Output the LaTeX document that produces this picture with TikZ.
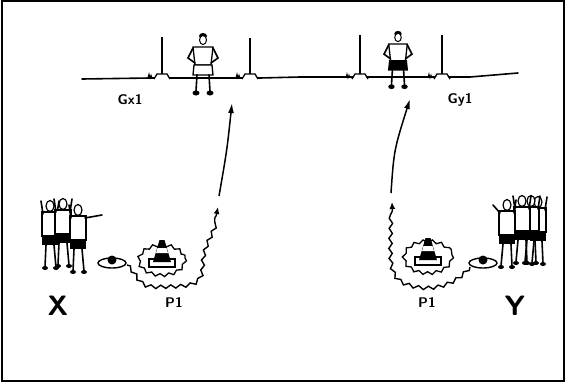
\documentclass[tikz,border=0pt]{standalone}
\usetikzlibrary{arrows.meta,decorations.pathmorphing}
\tikzstyle{arrow} = [line width=1.5pt,-{Latex[length=10pt,width=6pt]}]
\tikzset{
 frame/.style
  = {line width=1.2pt},
 ground/.style
  = {line width=1.6pt, line cap=round},
 pole/.style
  = {line width=1.8pt},
 limb/.style
  = {line width=1.6pt, line cap=round},
 wiggle/.style
  = {line width=1.3pt, decorate, decoration={snake, amplitude=1.5pt, segment length=9pt}},
 run/.style
  = {line width=1.4pt, -{Latex[length=7pt,width=6pt]}, decorate,
     decoration={snake, amplitude=1.7pt, segment length=10pt, post length=8pt}},
 tag/.style
  = {font=\sffamily\bfseries\fontsize{14}{14}\selectfont, inner sep=0pt},
 big/.style
  = {font=\sffamily\bfseries\fontsize{28}{28}\selectfont, inner sep=0pt},
 pics/keeper/.style = {code = {
   \fill (0,4) ellipse (4 and 3);
   \draw[fill=white, line width=1pt] (0,8) ellipse (3.5 and 4.5);
   \draw[fill=white, line width=1.3pt] (-10,15) -- (10,15) -- (8,33) -- (-8,33) -- cycle;
   \draw[limb] (-10,16) -- (-15,26) -- (-8,31) (10,16) -- (15,26) -- (8,31);
   \draw[fill=#1, line width=1.3pt] (-9,33) -- (9,33) -- (10,43) -- (-10,43) -- cycle;
   \draw[limb] (-6,43) -- (-7,59) (6,43) -- (7,59);
   \fill (-7,61) ellipse (3.5 and 2.5) (7,61) ellipse (3.5 and 2.5);
 }},
 pics/mate/.style = {code = {
   \draw[fill=white, line width=1.2pt] (0,6) ellipse (4 and 5.5);
   \draw[fill=white, line width=1.2pt] (-8,12) rectangle (8,36);
   \fill (-8,36) rectangle (8,45);
   \draw[limb] (-7,14) -- (-9,1);
   \draw[limb] (7,14) -- #1;
   \draw[limb] (-4,45) -- (-5,67) (4,45) -- (6,67);
   \fill (-5,68) ellipse (3 and 2) (6,68) ellipse (3 and 2);
 }},
 pics/cone/.style = {code = {
   \draw[line width=1.4pt, fill=white] (-13,19) rectangle (13,27);
   \fill (-2.5,0) -- (2.5,0) -- (9,22) -- (-9,22) -- cycle;
   \fill[white] (-4.5,8) -- (4.5,8) -- (6,13) -- (-6,13) -- cycle;
 }},
 pics/disc/.style = {code = {
   \draw[line width=1.4pt] (0,0) ellipse (14 and 5);
   \fill (0,-3) circle (4.5);
 }},
}
\begin{document}
\begin{tikzpicture}[x=1pt, y=-1pt]
\useasboundingbox (0,0) rectangle (566,383);

% Frame
\draw[frame] (2,1) rectangle (564,381);

% Goal line with poles
\draw[ground] (82,79) -- (150,78) -- (260,78) -- (300,77) -- (470,77) -- (518,73);
\foreach \px/\top in {162/37, 250/38, 360/35, 442/35} {
  \draw[pole] (\px,77) -- (\px,\top);
  \draw[line width=1.3pt, fill=white] ({\px-8},79) -- ({\px-5},74) -- ({\px+5},74) -- ({\px+8},79);
  \draw[line width=0.9pt] ({\px-14},78) -- ++(1,-4) -- ++(1,4) -- ++(1,-3) -- ++(1,3);
}

% Goalkeepers
\pic at (203,32) {keeper=white};
\pic[scale=0.93] at (398,30) {keeper=black};
\node[tag] (gx) at (130,100) {Gx1};
\node[tag] (gy) at (460,100) {Gy1};

% Group X
\pic at (50,200) {mate={(9,1)}};
\pic at (63,198) {mate={(9,1)}};
\pic at (78,204) {mate={(24,11)}};
\node[big] (x) at (58,306) {X};

% Group Y
\pic[xscale=-1] at (538,196) {mate={(9,1)}};
\pic[xscale=-1] at (531,195) {mate={(9,1)}};
\pic[xscale=-1] at (522,195) {mate={(9,1)}};
\pic[xscale=-1] at (507,199) {mate={(14,6)}};
\node[big] (y) at (515,306) {Y};

% Balls and cones
\pic at (112,263) {disc};
\pic at (483,263) {disc};
\draw[wiggle] (162,258) ellipse (23 and 15);
\draw[wiggle] (428,255) ellipse (24 and 16);
\pic at (162,240) {cone};
\pic at (428,238) {cone};
\node[tag] (p1) at (174,302) {P1};
\node[tag] (p2) at (427,302) {P1};

% Runs
\coordinate (L0) at (127,265);
\coordinate (L1) at (218,207);
\coordinate (R0) at (470,267);
\coordinate (R1) at (392,202);
\draw[run] (L0) .. controls (140,278) and (135,286) .. (160,285)
  .. controls (190,284) and (201,285) .. (201,262)
  .. controls (202,240) and (214,232) .. (L1);
\draw[run] (R0) .. controls (455,285) and (430,290) .. (410,283)
  .. controls (392,278) and (392,262) .. (392,245)
  .. controls (392,228) and (393,218) .. (R1);

% Shots
\coordinate (S0) at (219,196);
\coordinate (S1) at (232,103);
\coordinate (T0) at (391,193);
\coordinate (T1) at (410,99);
\draw[arrow] (S0) .. controls (227,150) .. (S1);
\draw[arrow] (T0) .. controls (394,150) .. (T1);

\end{tikzpicture}
\end{document}
